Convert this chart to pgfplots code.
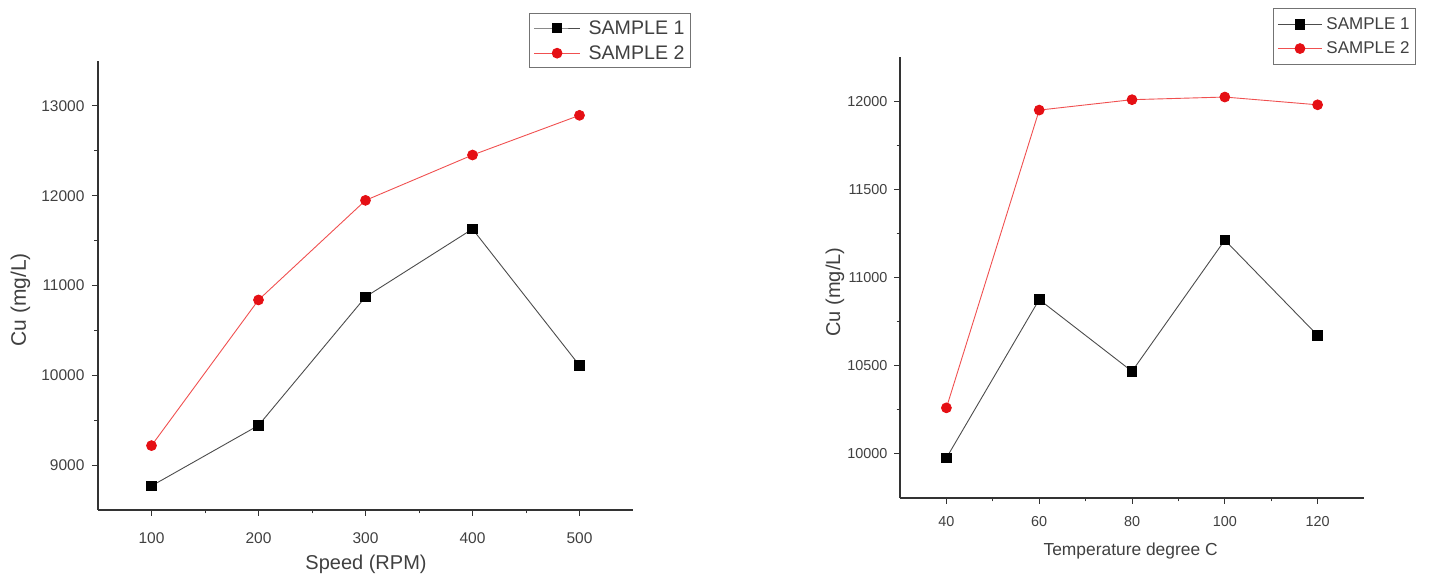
\documentclass[border=0pt]{standalone}
\usepackage{fontspec}
\setmainfont{Liberation Sans}
\usepackage{pgfplots}
\pgfplotsset{compat=1.18}
\definecolor{txt}{HTML}{404040}
\definecolor{redm}{HTML}{E50F14}
\definecolor{redl}{HTML}{F05050}
\begin{document}
\begin{tikzpicture}
\path (0pt,0pt) rectangle (1430pt,577pt);
\pgfplotsset{
 mystyle/.style={
  scale only axis,
  axis x line*=bottom, axis y line*=left,
  axis line style={black!80, line width=1.2pt, -},
  tick align=outside,
  major tick length=6pt, minor tick length=3.5pt,
  every tick/.style={black!80, line width=1pt},
  minor tick num=1,
  scaled x ticks=false, scaled y ticks=false,
  /pgf/number format/1000 sep={},
  /pgf/number format/assume math mode=true,
  tick label style={text=txt},
  label style={text=txt},
  legend style={draw=black!55, line width=0.9pt, text=txt, anchor=north west, inner xsep=4pt},
  legend cell align=left,
 },
 s1/.style={color=black!70, line width=0.9pt, mark=square*, mark size=4.8pt, mark options={black, fill=black, solid}},
 s2/.style={color=redl, line width=0.9pt, mark=*, mark size=4.9pt, mark options={redm, fill=redm, solid}},
}
\begin{axis}[mystyle,
  at={(98pt,67pt)}, anchor=south west,
  width=535pt, height=449pt,
  xmin=50, xmax=550, ymin=8500, ymax=13500,
  xtick={100,200,300,400,500},
  ytick={9000,10000,11000,12000,13000},
  tick label style={font=\fontsize{15.5}{17}\selectfont},
  xticklabel style={yshift=-13pt},
  yticklabel style={xshift=-4pt},
  xlabel={Speed (RPM)}, ylabel={Cu (mg/L)},
  xlabel style={font=\fontsize{20}{22}\selectfont, at={(axis description cs:0.501,-0.122)}, anchor=center},
  ylabel style={font=\fontsize{21}{23}\selectfont, at={(axis description cs:-0.145,0.468)}, anchor=center},
  legend style={at={(axis description cs:0.806,1.107)}, font=\fontsize{19.6}{22}\selectfont, inner ysep=5pt, row sep=6pt},
  legend image code/.code={\draw[mark repeat=2,mark phase=2] plot coordinates {(0pt,0pt)(23pt,0pt)(46pt,0pt)}; \path (52pt,0pt);},
]
\addplot[s1] coordinates {(100,8768) (200,9442) (300,10873) (400,11629) (500,10109)};
\addlegendentry{SAMPLE 1}
\addplot[s2] coordinates {(100,9217) (200,10839) (300,11948) (400,12453) (500,12895)};
\addlegendentry{SAMPLE 2}
\end{axis}
\begin{axis}[mystyle,
  at={(900pt,79pt)}, anchor=south west,
  width=464pt, height=441pt,
  xmin=30, xmax=130, ymin=9750, ymax=12250,
  xtick={40,60,80,100,120},
  ytick={10000,10500,11000,11500,12000},
  tick label style={font=\fontsize{14.4}{16}\selectfont},
  xticklabel style={yshift=-9pt},
  yticklabel style={xshift=-3pt},
  xlabel={Temperature degree C}, ylabel={Cu (mg/L)},
  xlabel style={font=\fontsize{17.4}{19}\selectfont, at={(axis description cs:0.497,-0.12)}, anchor=center},
  ylabel style={font=\fontsize{20}{22}\selectfont, at={(axis description cs:-0.14,0.467)}, anchor=center},
  legend style={at={(axis description cs:0.804,1.111)}, font=\fontsize{17}{19}\selectfont, inner ysep=7pt, row sep=7pt},
  legend image code/.code={\draw[mark repeat=2,mark phase=2] plot coordinates {(0pt,0pt)(22pt,0pt)(44pt,0pt)}; \path (46pt,0pt);},
]
\addplot[s1] coordinates {(40,9977) (60,10875) (80,10468) (100,11212) (120,10672)};
\addlegendentry{SAMPLE 1}
\addplot[s2] coordinates {(40,10261) (60,11949) (80,12008) (100,12023) (120,11979)};
\addlegendentry{SAMPLE 2}
\end{axis}
\end{tikzpicture}
\end{document}
